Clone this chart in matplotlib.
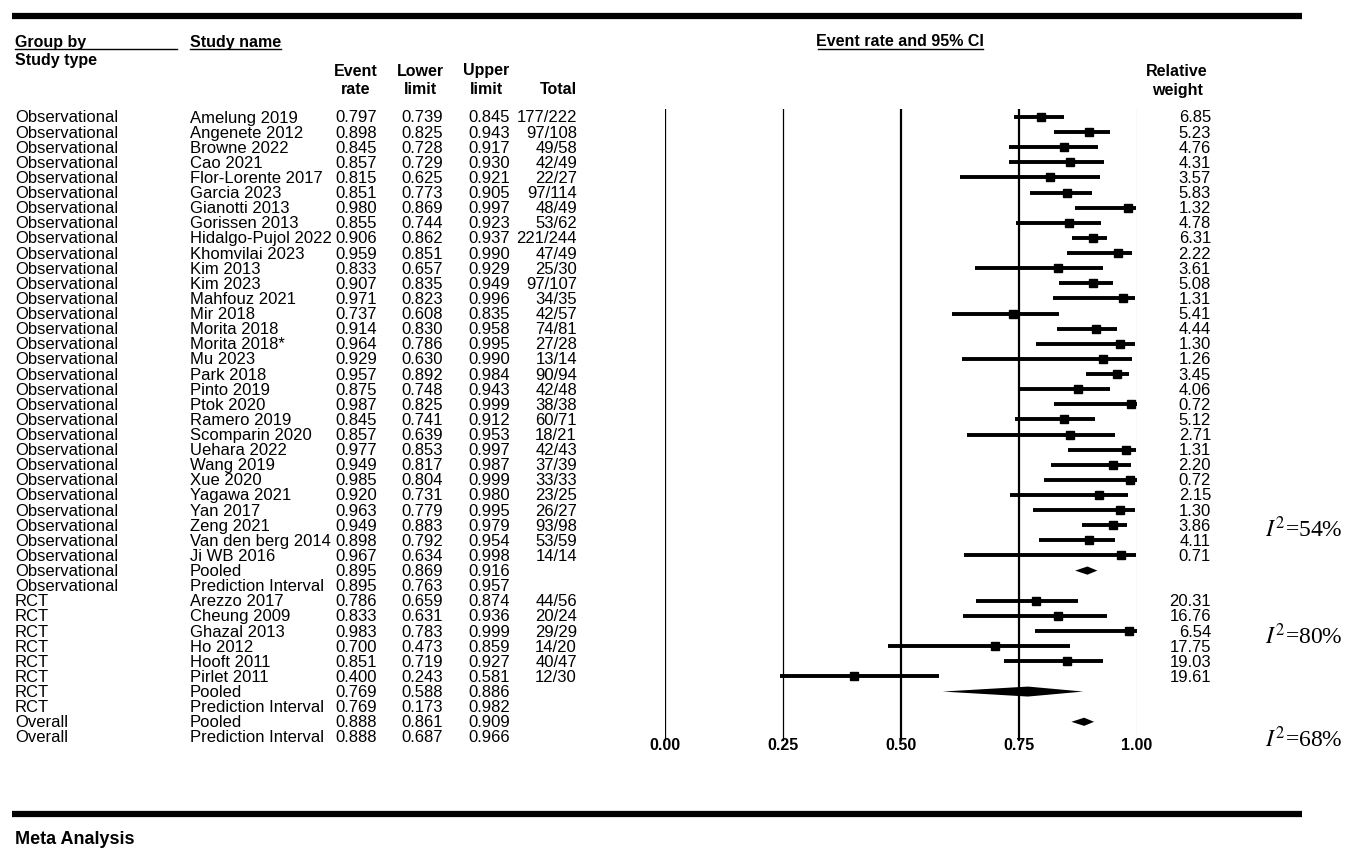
import matplotlib.pyplot as plt
import numpy as np

plt.rcParams['font.family'] = ['Liberation Sans', 'DejaVu Sans']
plt.rcParams['mathtext.fontset'] = 'stix'

# Данные forest plot
group = ['Observational'] * 32 + ['RCT'] * 8 + ['Overall'] * 2
study = [
    'Amelung 2019', 'Angenete 2012', 'Browne 2022', 'Cao 2021', 'Flor-Lorente 2017',
    'Garcia 2023', 'Gianotti 2013', 'Gorissen 2013', 'Hidalgo-Pujol 2022', 'Khomvilai 2023',
    'Kim 2013', 'Kim 2023', 'Mahfouz 2021', 'Mir 2018', 'Morita 2018', 'Morita 2018*',
    'Mu 2023', 'Park 2018', 'Pinto 2019', 'Ptok 2020', 'Ramero 2019', 'Scomparin 2020',
    'Uehara 2022', 'Wang 2019', 'Xue 2020', 'Yagawa 2021', 'Yan 2017', 'Zeng 2021',
    'Van den berg 2014', 'Ji WB 2016', 'Pooled', 'Prediction Interval',
    'Arezzo 2017', 'Cheung 2009', 'Ghazal 2013', 'Ho 2012', 'Hooft 2011', 'Pirlet 2011',
    'Pooled', 'Prediction Interval', 'Pooled', 'Prediction Interval',
]
row_kind = ['study'] * 30 + ['pooled', 'pi'] + ['study'] * 6 + ['pooled', 'pi', 'pooled', 'pi']
event_rate = [
    0.797, 0.898, 0.845, 0.857, 0.815, 0.851, 0.980, 0.855, 0.906, 0.959,
    0.833, 0.907, 0.971, 0.737, 0.914, 0.964, 0.929, 0.957, 0.875, 0.987,
    0.845, 0.857, 0.977, 0.949, 0.985, 0.920, 0.963, 0.949, 0.898, 0.967,
    0.895, 0.895,
    0.786, 0.833, 0.983, 0.700, 0.851, 0.400, 0.769, 0.769, 0.888, 0.888,
]
lower = [
    0.739, 0.825, 0.728, 0.729, 0.625, 0.773, 0.869, 0.744, 0.862, 0.851,
    0.657, 0.835, 0.823, 0.608, 0.830, 0.786, 0.630, 0.892, 0.748, 0.825,
    0.741, 0.639, 0.853, 0.817, 0.804, 0.731, 0.779, 0.883, 0.792, 0.634,
    0.869, 0.763,
    0.659, 0.631, 0.783, 0.473, 0.719, 0.243, 0.588, 0.173, 0.861, 0.687,
]
upper = [
    0.845, 0.943, 0.917, 0.930, 0.921, 0.905, 0.997, 0.923, 0.937, 0.990,
    0.929, 0.949, 0.996, 0.835, 0.958, 0.995, 0.990, 0.984, 0.943, 0.999,
    0.912, 0.953, 0.997, 0.987, 0.999, 0.980, 0.995, 0.979, 0.954, 0.998,
    0.916, 0.957,
    0.874, 0.936, 0.999, 0.859, 0.927, 0.581, 0.886, 0.982, 0.909, 0.966,
]
total = [
    '177/222', '97/108', '49/58', '42/49', '22/27', '97/114', '48/49', '53/62', '221/244', '47/49',
    '25/30', '97/107', '34/35', '42/57', '74/81', '27/28', '13/14', '90/94', '42/48', '38/38',
    '60/71', '18/21', '42/43', '37/39', '33/33', '23/25', '26/27', '93/98', '53/59', '14/14',
    '', '',
    '44/56', '20/24', '29/29', '14/20', '40/47', '12/30', '', '', '', '',
]
weight = [
    '6.85', '5.23', '4.76', '4.31', '3.57', '5.83', '1.32', '4.78', '6.31', '2.22',
    '3.61', '5.08', '1.31', '5.41', '4.44', '1.30', '1.26', '3.45', '4.06', '0.72',
    '5.12', '2.71', '1.31', '2.20', '0.72', '2.15', '1.30', '3.86', '4.11', '0.71',
    '', '',
    '20.31', '16.76', '6.54', '17.75', '19.03', '19.61', '', '', '', '',
]
ticks = [0.0, 0.25, 0.5, 0.75, 1.0]
i2_labels = ['54%', '80%', '68%']
i2_rows = [27.2, 34.3, 41.1]

W, H = 1363, 862
fig = plt.figure(figsize=(W / 100, H / 100), dpi=100)

# фоновая ось в пикселях для таблицы
bg = fig.add_axes([0, 0, 1, 1])
bg.set_xlim(0, W)
bg.set_ylim(H, 0)
bg.axis('off')

y0, dy = 118, 15.12
fs = 12


def row_y(i):
    return y0 + dy * i


# верхняя и нижняя полосы
bg.plot([12, 1302], [17, 17], color='black', lw=4.5, solid_capstyle='butt')
bg.plot([12, 1302], [815, 815], color='black', lw=4.5, solid_capstyle='butt')
bg.text(15, 840, 'Meta Analysis', fontsize=13, fontweight='bold', va='center')

# заголовки
hb = dict(fontsize=11.5, fontweight='bold', va='center')
bg.text(15, 42, 'Group by', **hb)
bg.plot([15, 177], [50, 50], color='black', lw=1)
bg.text(15, 60, 'Study type', **hb)
bg.text(190, 42, 'Study name', **hb)
bg.plot([190, 281], [50, 50], color='black', lw=1)
bg.text(900, 42, 'Event rate and 95% CI', ha='center', **hb)
bg.plot([818, 983], [50, 50], color='black', lw=1)
for cx, l1, l2 in [(356, 'Event', 'rate'), (420, 'Lower', 'limit'), (486, 'Upper', 'limit'),
                   (1177, 'Relative', 'weight')]:
    bg.text(cx, 71, l1, ha='center', **hb)
    bg.text(cx, 90, l2, ha='center', **hb)
bg.text(577, 90, 'Total', ha='right', **hb)

# строки таблицы
for i in range(len(study)):
    y = row_y(i)
    kw = dict(fontsize=fs, va='center')
    bg.text(15, y, group[i], **kw)
    bg.text(190, y, study[i], **kw)
    bg.text(377, y, f'{event_rate[i]:.3f}', ha='right', **kw)
    bg.text(443, y, f'{lower[i]:.3f}', ha='right', **kw)
    bg.text(510, y, f'{upper[i]:.3f}', ha='right', **kw)
    bg.text(577, y, total[i], ha='right', **kw)
    bg.text(1211, y, weight[i], ha='right', **kw)

for lab, r in zip(i2_labels, i2_rows):
    bg.text(1265, row_y(r), r'$I^2$' + '=' + lab, fontsize=17, va='center',
            family=['Liberation Serif', 'DejaVu Serif'])

# forest plot
x_left, x_right = 665, 1137
y_top, y_bot = 110, 742
ax = fig.add_axes([x_left / W, 1 - y_bot / H, (x_right - x_left) / W, (y_bot - y_top) / H])
ax.set_xlim(0, 1)
ax.set_ylim((y_bot - y0) / dy, (y_top - y0) / dy)
ax.axis('off')

for tk in ticks:
    if tk in (0.5, 0.75):
        ax.axvline(tk, color='black', lw=1.6)
    elif tk == 1.0:
        ax.axvline(tk, color='#808080', lw=0.8)
    else:
        ax.axvline(tk, color='black', lw=0.9)
    bg.text(x_left + tk * (x_right - x_left), 746, f'{tk:.2f}', ha='center', va='center',
            fontsize=11.5, fontweight='bold')

rows = np.arange(len(study))
for i in rows:
    if row_kind[i] == 'study':
        ax.plot([lower[i], upper[i]], [i, i], color='black', lw=2.8, solid_capstyle='butt')
        ax.plot(event_rate[i], i, marker='s', color='black', markersize=6)
    elif row_kind[i] == 'pooled':
        h = 0.33 if group[i] == 'RCT' else 0.27
        ax.fill([lower[i], event_rate[i], upper[i], event_rate[i]],
                [i, i - h, i, i + h], color='black', lw=0)

fig.savefig('out.png', dpi=100)
